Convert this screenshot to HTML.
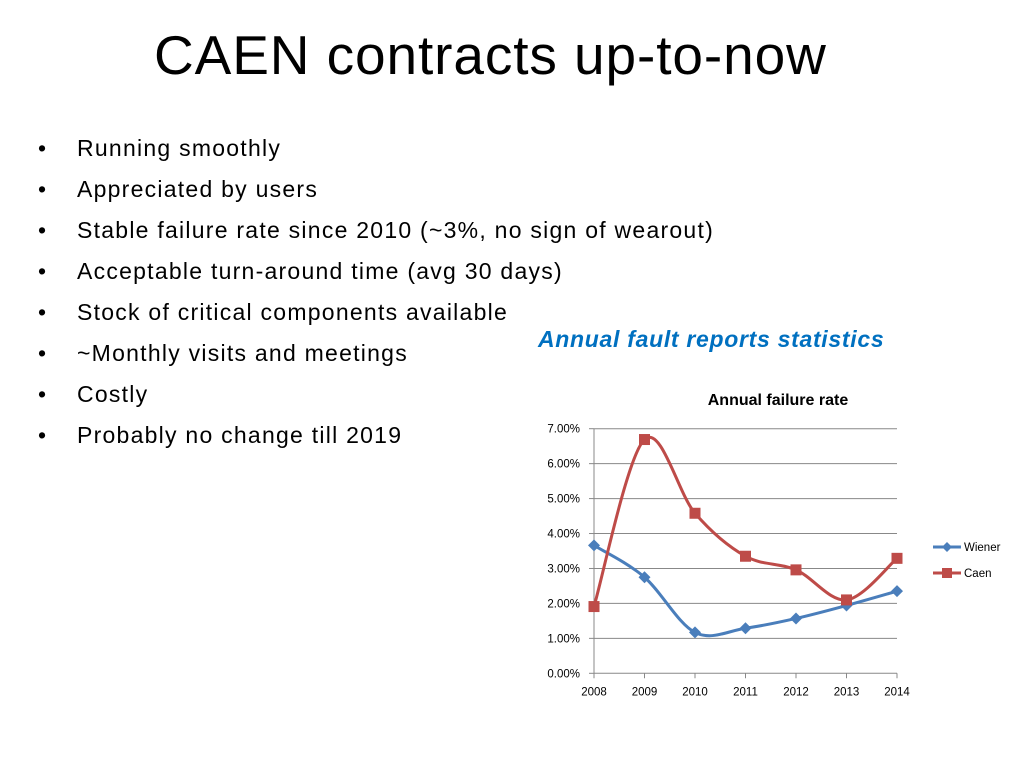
<!DOCTYPE html>
<html><head><meta charset="utf-8">
<style>
html,body{margin:0;padding:0;background:#fff;}
body{width:1024px;height:768px;position:relative;overflow:hidden;font-family:"Liberation Sans",sans-serif;color:#000;}
#title{position:absolute;left:154px;top:23px;font-size:55px;letter-spacing:0.9px;white-space:nowrap;}
ul{position:absolute;left:0;top:130px;margin:0;padding:0;list-style:none;}
li{position:absolute;left:0;white-space:nowrap;font-size:23px;letter-spacing:1.25px;}
li .b{position:absolute;left:38px;}
li .t{position:absolute;left:77px;}
#sub{position:absolute;left:538px;top:326px;font-size:23px;font-weight:bold;font-style:italic;color:#0070c0;white-space:nowrap;letter-spacing:0.7px;}
</style></head><body>
<div id="title">CAEN contracts up-to-now</div>
<ul>
<li style="top:5px"><span class="b">•</span><span class="t">Running smoothly</span></li>
<li style="top:46px"><span class="b">•</span><span class="t">Appreciated by users</span></li>
<li style="top:87px"><span class="b">•</span><span class="t">Stable failure rate since 2010 (~3%, no sign of wearout)</span></li>
<li style="top:128px"><span class="b">•</span><span class="t">Acceptable turn-around time (avg 30 days)</span></li>
<li style="top:169px"><span class="b">•</span><span class="t">Stock of critical components available</span></li>
<li style="top:210px"><span class="b">•</span><span class="t">~Monthly visits and meetings</span></li>
<li style="top:251px"><span class="b">•</span><span class="t">Costly</span></li>
<li style="top:292px"><span class="b">•</span><span class="t">Probably no change till 2019</span></li>
</ul>
<div id="sub">Annual fault reports statistics</div>
<svg id="chart" width="1024" height="768" style="position:absolute;left:0;top:0"></svg>
<script>
const years = ["2008","2009","2010","2011","2012","2013","2014"];
const wiener = [3.66, 2.75, 1.17, 1.29, 1.57, 1.94, 2.35];
const caen = [1.91, 6.69, 4.58, 3.35, 2.96, 2.10, 3.29];
const yTicks = [0,1,2,3,4,5,6,7];
const seriesNames = ["Wiener","Caen"];

const NS="http://www.w3.org/2000/svg";
const svg=document.getElementById('chart');
const X0=594,X1=897,Y0=673.3,Y1=428.7,YMAX=7;
const xs=i=>X0+(X1-X0)*i/(years.length-1);
const ys=v=>Y0-(Y0-Y1)*v/YMAX;
function mk(tag,attrs,parent){const e=document.createElementNS(NS,tag);for(const k in attrs)e.setAttribute(k,attrs[k]);(parent||svg).appendChild(e);return e;}

let t=mk('text',{x:778,y:405,'text-anchor':'middle','font-size':16,'font-weight':'bold','font-family':'Liberation Sans, sans-serif'});
t.textContent='Annual failure rate';



yTicks.forEach(v=>{
  const y=ys(v);
  const g=mk('line',{x1:X0,x2:X1,y1:y,y2:y,stroke:'#888','stroke-width':1});
  
  
  mk('line',{x1:X0-5,x2:X0,y1:y,y2:y,stroke:'#888'});
  const l=mk('text',{x:X0-14,y:y+4,'text-anchor':'end','font-size':11.5,'font-family':'Liberation Sans, sans-serif'});
  l.textContent=v.toFixed(2)+'%';
  
  
});
const ax=mk('line',{x1:X0,x2:X0,y1:Y1,y2:Y0,stroke:'#888'});


years.forEach((yr,i)=>{
  const x=xs(i);
  mk('line',{x1:x,x2:x,y1:Y0,y2:Y0+5,stroke:'#888'});
  const l=mk('text',{x:x,y:Y0+22,'text-anchor':'middle','font-size':11.5,'font-family':'Liberation Sans, sans-serif'});
  l.textContent=yr;
  
  
});

function smooth(pts){
  let d='M'+pts[0][0]+','+pts[0][1];
  for(let i=0;i<pts.length-1;i++){
    const p0=pts[i-1]||pts[i],p1=pts[i],p2=pts[i+1],p3=pts[i+2]||p2;
    const k=1/6;
    d+=' C'+(p1[0]+(p2[0]-p0[0])*k)+','+(p1[1]+(p2[1]-p0[1])*k)+' '+(p2[0]-(p3[0]-p1[0])*k)+','+(p2[1]-(p3[1]-p1[1])*k)+' '+p2[0]+','+p2[1];
  }
  return d;
}
function series(vals,color,shape,name){
  const pts=vals.map((v,i)=>[xs(i),ys(v)]);
  const p=mk('path',{d:smooth(pts),fill:'none',stroke:color,'stroke-width':3});
  
  
  pts.forEach(q=>{
    let m;
    if(shape==='sq') m=mk('rect',{x:q[0]-5.5,y:q[1]-5.5,width:11,height:11,fill:color});
    else m=mk('path',{d:`M${q[0]},${q[1]-6} L${q[0]+6},${q[1]} L${q[0]},${q[1]+6} L${q[0]-6},${q[1]} Z`,fill:color});
    
    
  });
}
series(wiener,'#4a7ebb','di','wiener');
series(caen,'#be4b48','sq','caen');

[[seriesNames[0],'#4a7ebb','di',547],[seriesNames[1],'#be4b48','sq',573]].forEach(([n,c,s,y])=>{
  const l=mk('line',{x1:933,x2:961,y1:y,y2:y,stroke:c,'stroke-width':3});
  if(s==='sq') mk('rect',{x:942,y:y-5,width:10,height:10,fill:c});
  else mk('path',{d:`M947,${y-5} L952,${y} L947,${y+5} L942,${y} Z`,fill:c});
  const tx=mk('text',{x:964,y:y+4,'font-size':11.5,'font-family':'Liberation Sans, sans-serif'});
  tx.textContent=n;
  
  
});
</script>
</body></html>
